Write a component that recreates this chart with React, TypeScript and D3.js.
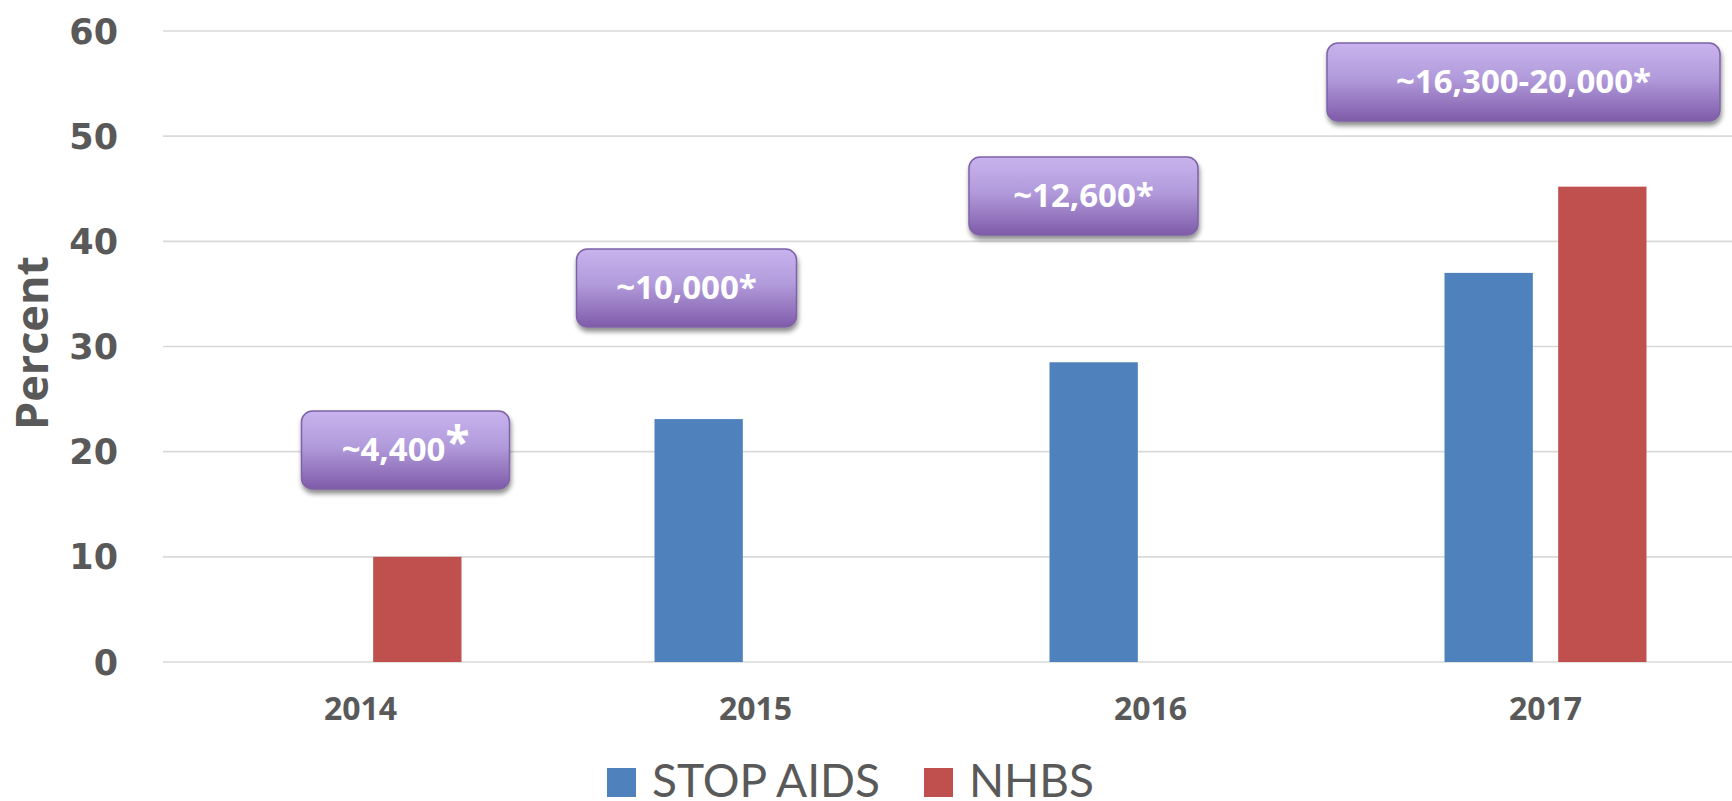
import React from "react";
import * as d3 from "d3";

const years = ["2014", "2015", "2016", "2017"];
const seriesNames = ["STOP AIDS", "NHBS"];
const stopAids: (number | null)[] = [null, 23.1, 28.5, 37.0];
const nhbs: (number | null)[] = [10.0, null, null, 45.2];
const yTicks = [0, 10, 20, 30, 40, 50, 60];
const calloutLabels = ["~4,400", "~10,000", "~12,600", "~16,300-20,000"];
const seriesColors = ["#4f81bd", "#c0504d"];

// layout for callouts: center offset from band center, top, width (px)
const calloutLayout = [
  { dx: 45, top: 411, w: 208, raisedStar: true },
  { dx: -69, top: 249, w: 220, raisedStar: false },
  { dx: -67, top: 157, w: 229, raisedStar: false },
  { dx: -22, top: 43, w: 393, raisedStar: false },
];

const W = 1732;
const H = 801;
const plotLeft = 163;
const plotRight = 1743;
const plotTop = 31;
const plotBottom = 662;

export default function App() {
  const x = d3.scaleBand<string>().domain(years).range([plotLeft, plotRight]).padding(0);
  const groupW = 202;
  const inner = d3
    .scaleBand<string>()
    .domain(seriesNames)
    .range([-groupW / 2, groupW / 2])
    .paddingInner(0.223)
    .paddingOuter(0);
  const y = d3.scaleLinear().domain([0, 60]).range([plotBottom, plotTop]);
  const seriesData = [stopAids, nhbs];
  const grey = "#595959";

  return (
    <svg
      width={W}
      height={H}
      style={{ position: "absolute", left: 0, top: 0, background: "#fff" }}
    >
      <defs>
        <linearGradient id="calloutGrad" x1="0" y1="0" x2="0" y2="1">
          <stop offset="0" stopColor="#c9b3ee" />
          <stop offset="0.45" stopColor="#b29bdb" />
          <stop offset="1" stopColor="#7f5ba9" />
        </linearGradient>
        <filter id="shadow" x="-10%" y="-20%" width="120%" height="150%">
          <feGaussianBlur in="SourceAlpha" stdDeviation="2.5" />
          <feOffset dx="1" dy="4" result="ob" />
          <feComponentTransfer>
            <feFuncA type="linear" slope="0.45" />
          </feComponentTransfer>
          <feMerge>
            <feMergeNode />
            <feMergeNode in="SourceGraphic" />
          </feMerge>
        </filter>
      </defs>

      {yTicks.map((t) => (
        <g key={t}>
          <line
            x1={plotLeft}
            x2={W}
            y1={y(t)}
            y2={y(t)}
            stroke="#d9d9d9"
            strokeWidth={1.6}
          />
          <text
            x={118}
            y={y(t)}
            dy="0.36em"
            textAnchor="end"
            fontFamily="DejaVu Sans"
            fontWeight="bold"
            fontSize={35}
            fill={grey}
          >
            {t}
          </text>
        </g>
      ))}

      <text
        transform={`translate(48,343) rotate(-90)`}
        textAnchor="middle"
        fontFamily="Open Sans"
        fontWeight="bold"
        fontSize={45}
        fill={grey}
      >
        Percent
      </text>

      {years.map((yr, i) => {
        const cx = (x(yr) as number) + x.bandwidth() / 2;
        return (
          <g key={yr}>
            {seriesData.map((s, si) => {
              const v = s[i];
              if (v == null) return null;
              const bx = cx + (inner(seriesNames[si]) as number);
              return (
                <rect
                  key={si}
                  x={bx}
                  y={y(v)}
                  width={inner.bandwidth()}
                  height={y(0) - y(v)}
                  fill={seriesColors[si]}
                />
              );
            })}
            <text
              x={cx}
              y={720}
              textAnchor="middle"
              fontFamily="Open Sans"
              fontWeight="bold"
              fontSize={32}
              fill={grey}
            >
              {yr}
            </text>
          </g>
        );
      })}

      {calloutLabels.map((lab, i) => {
        const L = calloutLayout[i];
        const cx = (x(years[i]) as number) + x.bandwidth() / 2 + L.dx;
        const h = 78;
        return (
          <g key={lab}>
            <rect
              x={cx - L.w / 2}
              y={L.top}
              width={L.w}
              height={h}
              rx={11}
              ry={11}
              fill="url(#calloutGrad)"
              stroke="#7e62a6"
              strokeWidth={1.5}
              filter="url(#shadow)"
            />
            <text
              x={cx}
              y={L.top + h / 2 + 11}
              textAnchor="middle"
              fontFamily="Open Sans"
              fontWeight="bold"
              fontSize={33}
              fill="#ffffff"
            >
              {lab}
              {L.raisedStar ? (
                <tspan fontSize={44} dy={-3}>
                  *
                </tspan>
              ) : (
                <tspan>*</tspan>
              )}
            </text>
          </g>
        );
      })}

      {seriesNames.map((nm, i) => {
        const lx = [607, 924][i];
        return (
          <g key={nm}>
            <rect x={lx} y={768} width={29} height={29} fill={seriesColors[i]} />
            <text
              x={lx + 45}
              y={797}
              fontFamily="Lato"
              fontSize={46}
              fill={grey}
            >
              {nm}
            </text>
          </g>
        );
      })}
    </svg>
  );
}
